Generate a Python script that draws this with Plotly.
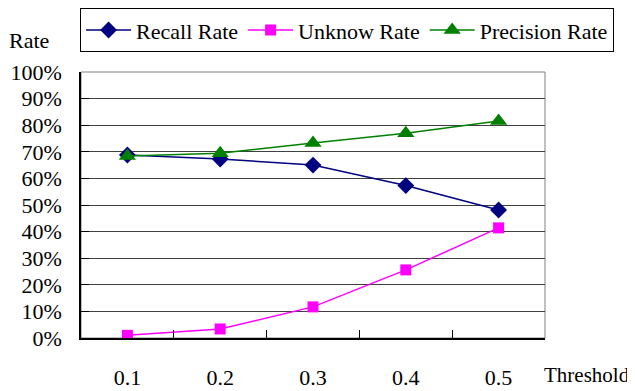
import plotly.graph_objects as go

thresholds = ["0.1", "0.2", "0.3", "0.4", "0.5"]
recall_rate = [68.8, 67.3, 65.0, 57.3, 48.1]
unknow_rate = [1.0, 3.4, 11.7, 25.6, 41.4]
precision_rate = [68.4, 69.5, 73.3, 77.0, 81.6]
y_ticks = [0, 10, 20, 30, 40, 50, 60, 70, 80, 90, 100]
y_tick_labels = [f"{v}%" for v in y_ticks]

FONT = "Liberation Serif"
FS = 22

fig = go.Figure()
fig.add_trace(go.Scatter(x=thresholds, y=recall_rate, name="Recall Rate", mode="lines+markers",
                         line=dict(color="#000080", width=1.5),
                         marker=dict(symbol="diamond", size=13, color="#000080")))
fig.add_trace(go.Scatter(x=thresholds, y=unknow_rate, name="Unknow Rate", mode="lines+markers",
                         line=dict(color="#FF00FF", width=1.5),
                         marker=dict(symbol="square", size=11, color="#FF00FF")))
fig.add_trace(go.Scatter(x=thresholds, y=precision_rate, name="Precision Rate", mode="lines+markers",
                         line=dict(color="#008000", width=1.5),
                         marker=dict(symbol="triangle-up", size=15, color="#008000")))

fig.update_layout(
    width=627, height=383,
    margin=dict(l=73, r=90, t=64, b=53, autoexpand=False),
    paper_bgcolor="white", plot_bgcolor="white",
    font=dict(family=FONT, size=FS, color="black"),
    showlegend=True,
    legend=dict(orientation="h", x=-0.002, xanchor="left", y=1.24, yanchor="top",
                bordercolor="black", borderwidth=1, bgcolor="white",
                font=dict(family=FONT, size=FS), itemwidth=45,
                tracegroupgap=0),
    xaxis=dict(type="category", showgrid=False, showline=True, linecolor="black", linewidth=1.5,
               ticks="inside", tickson="boundaries", ticklen=8, tickcolor="black",
               tickfont=dict(family=FONT, size=FS), ticklabelstandoff=19,
               range=[-0.5, 4.5], zeroline=False, automargin=False),
    yaxis=dict(range=[0, 100], tickvals=y_ticks, ticktext=y_tick_labels, showgrid=True,
               gridcolor="#404040", gridwidth=1, showline=True, linecolor="black", linewidth=1.5,
               ticks="inside", ticklen=8, tickcolor="black",
               tickfont=dict(family=FONT, size=FS), ticklabelstandoff=13, zeroline=False,
               automargin=False),
    shapes=[dict(type="rect", xref="paper", yref="paper", x0=0, x1=1, y0=0, y1=1,
                 line=dict(color="#808080", width=1), layer="below")],
    annotations=[
        dict(text="Rate", xref="paper", yref="paper", x=-0.157, y=1.12, xanchor="left",
             yanchor="middle", showarrow=False, borderpad=0, font=dict(family=FONT, size=FS)),
        dict(text="Threshold", xref="paper", yref="paper", x=0.994, y=-0.139, xanchor="left",
             yanchor="middle", showarrow=False, font=dict(family=FONT, size=21)),
    ],
)

fig.write_html("out.html")
